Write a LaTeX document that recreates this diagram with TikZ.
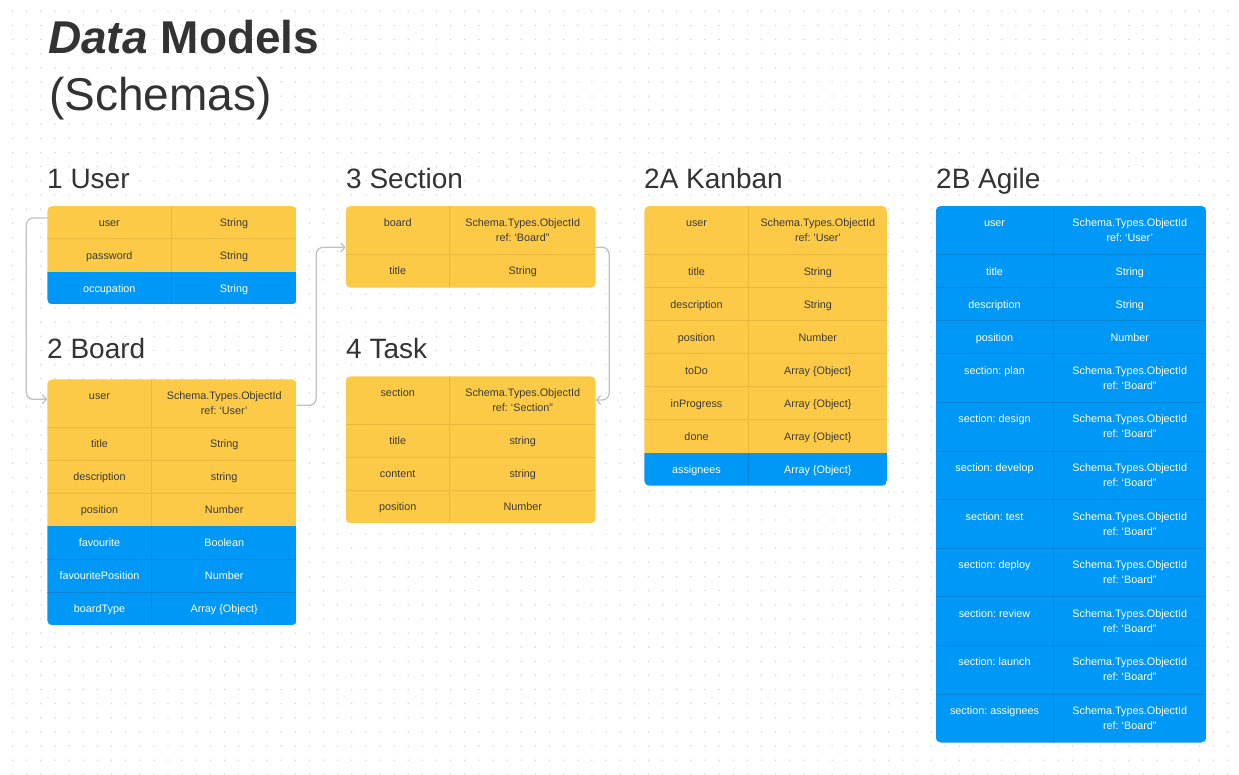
\documentclass[tikz,border=0pt]{standalone}
\usepackage{fontspec}
\setmainfont{Liberation Sans}
\usetikzlibrary{arrows.meta}
\definecolor{ycol}{HTML}{FCCA46}
\definecolor{bcol}{HTML}{0098F7}
\definecolor{ydiv}{HTML}{E9B93E}
\definecolor{bdiv}{HTML}{0A86D8}
\definecolor{ink}{HTML}{333333}
\definecolor{celltxt}{HTML}{3A3A3A}
\definecolor{dotc}{HTML}{CFCFCF}
\definecolor{linec}{HTML}{C2C2C2}
\frenchspacing
\tikzset{
  filly/.style={fill=ycol},
  fillb/.style={fill=bcol},
  divy/.style={draw=ydiv, line width=0.8pt},
  divb/.style={draw=bdiv, line width=0.8pt},
  txty/.style={anchor=base, inner sep=0pt, text=celltxt, font=\fontsize{10.8}{12}\selectfont},
  txtb/.style={anchor=base, inner sep=0pt, text=white, font=\fontsize{10.8}{12}\selectfont},
  frame/.style={rectangle, inner sep=0pt, outer sep=0pt, anchor=north west},
  heading/.style={anchor=base west, inner sep=0pt, text=ink, font=\fontsize{28}{30}\selectfont},
  conn/.style={draw=linec, line width=1.3pt, rounded corners=7pt, -{Straight Barb[length=4pt,width=9pt]}}
}
% #1 name #2 ytop #3 height #4 key #5 value line 1 #6 value line 2 #7 kind (y/b) #8 top divider (1/0)
\newcommand\trow[8]{%
  \fill[fill#7] (\xl,#2) rectangle (\xr,#2+#3);
  \draw[div#7] (\xm,#2) -- (\xm,#2+#3);
  \ifnum#8=1 \draw[div#7] (\xl,#2) -- (\xr,#2);\fi
  \node[txt#7] (#1k) at ({(\xl+\xm)/2},#2+20.6) {#4};
  \node[txt#7] (#1v) at ({(\xm+\xr)/2},#2+20.6) {#5};
  \if\relax\detokenize{#6}\relax\else
  \node[txt#7] (#1r) at ({(\xm+\xr)/2},#2+35.6) {#6};\fi
}
\begin{document}
\begin{tikzpicture}[x=1pt,y=-1pt]
\fill[white] (0,0) rectangle (1239,774);
\useasboundingbox (0,0) rectangle (1239,774);
% dot grid
\foreach \i in {0,...,87}{
  \foreach \j in {0,...,54}{
    \fill[dotc] ({12.6+\i*14.13},{11.3+\j*14.13}) circle (0.75);
  }
}
% titles
\node[anchor=base west, inner sep=0pt, text=ink, font=\fontsize{46}{48}\selectfont\bfseries] (title) at (48,53) {\textit{Data} Models};
\node[anchor=base west, inner sep=0pt, text=ink, font=\fontsize{46}{48}\selectfont] (subtitle) at (49,110) {(Schemas)};
\node[heading] (h1) at (47,188) {1 User};
\node[heading] (h2) at (47,358) {2 Board};
\node[heading] (h3) at (346,188) {3 Section};
\node[heading] (h4) at (346,358) {4 Task};
\node[heading] (h2a) at (644,188) {2A Kanban};
\node[heading] (h2b) at (936,188) {2B Agile};

% ---- 1 User
\def\xl{47.3}\def\xm{171.3}\def\xr{296.7}
\node[frame, minimum width=249.4pt, minimum height=98.4pt] (usertab) at (47.3,206) {};
\begin{scope}
\clip[rounded corners=5pt] (usertab.north west) rectangle (usertab.south east);
\trow{u1}{206}{32.8}{user}{String}{}{y}{0}
\trow{u2}{238.8}{32.8}{password}{String}{}{y}{1}
\trow{u3}{271.6}{32.8}{occupation}{String}{}{b}{0}
\end{scope}

% ---- 2 Board
\def\xl{47.3}\def\xm{151.7}\def\xr{296.7}
\node[frame, minimum width=249.4pt, minimum height=246pt] (boardtab) at (47.3,379.3) {};
\begin{scope}
\clip[rounded corners=5pt] (boardtab.north west) rectangle (boardtab.south east);
\trow{b1}{379.3}{48}{user}{Schema.Types.ObjectId}{ref: ‘User’}{y}{0}
\trow{b2}{427.3}{33}{title}{String}{}{y}{1}
\trow{b3}{460.3}{33}{description}{string}{}{y}{1}
\trow{b4}{493.3}{33}{position}{Number}{}{y}{1}
\trow{b5}{526.3}{33}{favourite}{Boolean}{}{b}{0}
\trow{b6}{559.3}{33}{favouritePosition}{Number}{}{b}{1}
\trow{b7}{592.3}{33}{boardType}{Array \{Object\}}{}{b}{1}
\end{scope}

% ---- 3 Section
\def\xl{345.7}\def\xm{449.7}\def\xr{595.7}
\node[frame, minimum width=250pt, minimum height=81.7pt] (sectab) at (345.7,206) {};
\begin{scope}
\clip[rounded corners=5pt] (sectab.north west) rectangle (sectab.south east);
\trow{s1}{206}{48.3}{board}{Schema.Types.ObjectId}{ref: ‘Board”}{y}{0}
\trow{s2}{254.3}{33.4}{title}{String}{}{y}{1}
\end{scope}

% ---- 4 Task
\node[frame, minimum width=250pt, minimum height=147pt] (tasktab) at (345.7,376.3) {};
\begin{scope}
\clip[rounded corners=5pt] (tasktab.north west) rectangle (tasktab.south east);
\trow{t1}{376.3}{48}{section}{Schema.Types.ObjectId}{ref: ‘Section”}{y}{0}
\trow{t2}{424.3}{33}{title}{string}{}{y}{1}
\trow{t3}{457.3}{33}{content}{string}{}{y}{1}
\trow{t4}{490.3}{33}{position}{Number}{}{y}{1}
\end{scope}

% ---- 2A Kanban
\def\xl{644.3}\def\xm{748.7}\def\xr{887}
\node[frame, minimum width=242.7pt, minimum height=279.7pt] (kantab) at (644.3,206) {};
\begin{scope}
\clip[rounded corners=5pt] (kantab.north west) rectangle (kantab.south east);
\trow{k1}{206}{48.7}{user}{Schema.Types.ObjectId}{ref: \textquotesingle User\textquotesingle}{y}{0}
\trow{k2}{254.7}{33}{title}{String}{}{y}{1}
\trow{k3}{287.7}{33}{description}{String}{}{y}{1}
\trow{k4}{320.7}{33}{position}{Number}{}{y}{1}
\trow{k5}{353.7}{33}{toDo}{Array \{Object\}}{}{y}{1}
\trow{k6}{386.7}{33}{inProgress}{Array \{Object\}}{}{y}{1}
\trow{k7}{419.7}{33}{done}{Array \{Object\}}{}{y}{1}
\trow{k8}{452.7}{33}{assignees}{Array \{Object\}}{}{b}{0}
\end{scope}

% ---- 2B Agile
\def\xl{935.7}\def\xm{1053.3}\def\xr{1206.3}
\node[frame, minimum width=270.6pt, minimum height=536.5pt] (agiletab) at (935.7,206) {};
\begin{scope}
\clip[rounded corners=5pt] (agiletab.north west) rectangle (agiletab.south east);
\trow{a1}{206}{48.7}{user}{Schema.Types.ObjectId}{ref: ‘User’}{b}{0}
\trow{a2}{254.7}{33}{title}{String}{}{b}{1}
\trow{a3}{287.7}{33}{description}{String}{}{b}{1}
\trow{a4}{320.7}{33}{position}{Number}{}{b}{1}
\trow{a5}{353.7}{48.6}{section: plan}{Schema.Types.ObjectId}{ref: ‘Board”}{b}{1}
\trow{a6}{402.3}{48.6}{section: design}{Schema.Types.ObjectId}{ref: ‘Board”}{b}{1}
\trow{a7}{450.9}{48.6}{section: develop}{Schema.Types.ObjectId}{ref: ‘Board”}{b}{1}
\trow{a8}{499.5}{48.6}{section: test}{Schema.Types.ObjectId}{ref: ‘Board”}{b}{1}
\trow{a9}{548.1}{48.6}{section: deploy}{Schema.Types.ObjectId}{ref: ‘Board”}{b}{1}
\trow{a10}{596.7}{48.6}{section: review}{Schema.Types.ObjectId}{ref: ‘Board”}{b}{1}
\trow{a11}{645.3}{48.6}{section: launch}{Schema.Types.ObjectId}{ref: ‘Board”}{b}{1}
\trow{a12}{693.9}{48.6}{section: assignees}{Schema.Types.ObjectId}{ref: ‘Board”}{b}{1}
\end{scope}

% ---- connectors
\draw[conn] ([yshift=-12pt]usertab.north west) -- ++(-21,0) |- ([yshift=-20pt]boardtab.north west);
\draw[conn] ([yshift=-26pt]boardtab.north east) -- ++(19.5,0) |- ([yshift=-41.3pt]sectab.north west);
\draw[conn] ([yshift=-41.3pt]sectab.north east) -- ++(13.5,0) |- ([yshift=-23.7pt]tasktab.north east);
\end{tikzpicture}
\end{document}
